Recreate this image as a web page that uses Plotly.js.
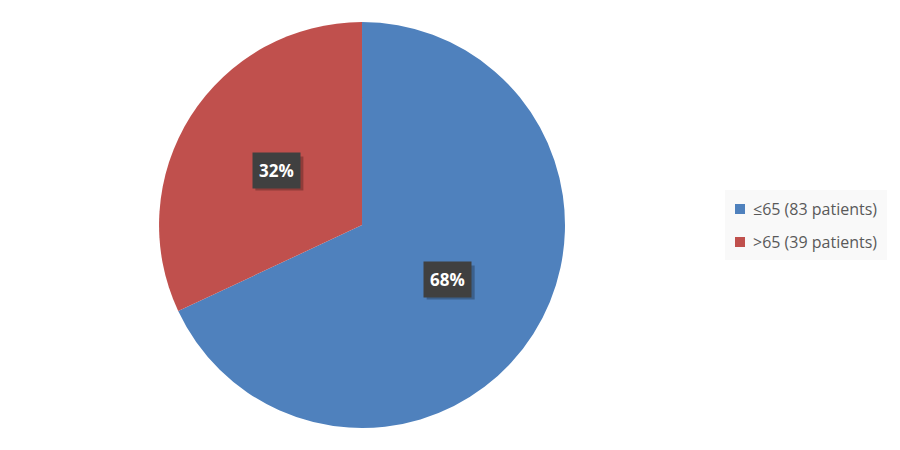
<!DOCTYPE html>
<html>
<head>
<meta charset="utf-8">
<script src="https://cdn.plot.ly/plotly-3.0.1.min.js"></script>
<style>html,body{margin:0;padding:0;background:#fff}#chart{width:900px;height:450px}</style>
</head>
<body>
<div id="chart"></div>
<script>
const categories = ["≤65 (83 patients)", ">65 (39 patients)"];
const patients = [83, 39];
const percentLabels = ["68%", "32%"];
const colors = ["#4F81BD", "#C0504D"];

const W = 900, H = 450;
const dom = {x: [0.1767, 0.6278], y: [0.0489, 0.951]};
const cx = (dom.x[0] + dom.x[1]) / 2 * W;
const cy = H - (dom.y[0] + dom.y[1]) / 2 * H;
const r = Math.min((dom.x[1]-dom.x[0]) * W, (dom.y[1]-dom.y[0]) * H) / 2;
const total = patients.reduce((a, b) => a + b, 0);

const annotations = [];
const shapes = [];
const boxW = 48, boxH = 34, sh = 3;
let cum = 0;
patients.forEach((v, i) => {
  const mid = (cum + v / 2) / total * 2 * Math.PI;
  cum += v;
  const px = cx + 0.5 * r * Math.sin(mid);
  const py = cy - 0.5 * r * Math.cos(mid);
  // drop shadow behind the label box
  shapes.push({type: 'rect', xref: 'paper', yref: 'paper', layer: 'above',
    x0: (px - boxW / 2 + sh) / W, x1: (px + boxW / 2 + sh) / W,
    y0: 1 - (py + boxH / 2 + sh) / H, y1: 1 - (py - boxH / 2 + sh) / H,
    fillcolor: 'rgba(0,0,0,0.25)', line: {width: 0}});
  annotations.push({
    x: px / W, y: 1 - py / H, xref: 'paper', yref: 'paper',
    text: '<b>' + percentLabels[i] + '</b>', showarrow: false,
    font: {family: 'Open Sans, sans-serif', size: 17, color: '#ffffff'},
    bgcolor: '#404040', borderpad: 6, xanchor: 'center', yanchor: 'middle'
  });
});

// custom legend
const lg = {x0: 725, x1: 887, y0: 190, y1: 260, mx: 735, ms: 10, tx: 751, ys: [209, 242]};
shapes.push({type: 'rect', xref: 'paper', yref: 'paper', layer: 'below',
  x0: lg.x0 / W, x1: lg.x1 / W, y0: 1 - lg.y1 / H, y1: 1 - lg.y0 / H,
  fillcolor: '#f9f9f9', line: {width: 0}});
categories.forEach((c, i) => {
  const yc = lg.ys[i];
  shapes.push({type: 'rect', xref: 'paper', yref: 'paper',
    x0: lg.mx / W, x1: (lg.mx + lg.ms) / W,
    y0: 1 - (yc + lg.ms / 2) / H, y1: 1 - (yc - lg.ms / 2) / H,
    fillcolor: colors[i], line: {width: 0}});
  annotations.push({x: lg.tx / W, y: 1 - yc / H, xref: 'paper', yref: 'paper',
    text: c, showarrow: false, xanchor: 'left', yanchor: 'middle',
    font: {family: 'Open Sans, sans-serif', size: 16, color: '#595959'}});
});

Plotly.newPlot('chart', [{
  type: 'pie',
  labels: categories,
  values: patients,
  marker: {colors: colors, line: {color: '#ffffff', width: 0}},
  sort: false,
  direction: 'clockwise',
  rotation: 0,
  textinfo: 'none',
  hoverinfo: 'label+percent',
  showlegend: false,
  domain: dom
}], {
  width: W, height: H,
  margin: {l: 0, r: 0, t: 0, b: 0},
  paper_bgcolor: '#ffffff',
  showlegend: false,
  shapes: shapes,
  annotations: annotations
}, {displayModeBar: false, staticPlot: true});
</script>
</body>
</html>
